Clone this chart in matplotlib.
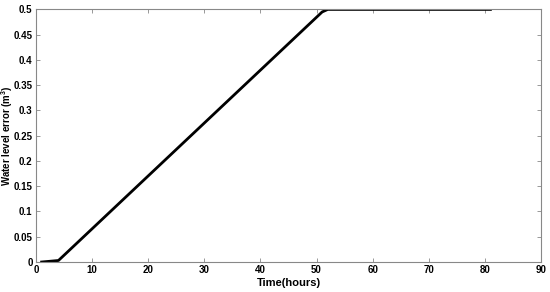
import matplotlib
matplotlib.use('Agg')
import matplotlib.pyplot as plt

# Readings from the reference curve
time_h = [1, 4, 51, 52, 81]
error_m3 = [0.0, 0.003, 0.495, 0.5, 0.5]

xticks = [0, 10, 20, 30, 40, 50, 60, 70, 80, 90]
yticks = [0, 0.05, 0.1, 0.15, 0.2, 0.25, 0.3, 0.35, 0.4, 0.45, 0.5]
ytick_labels = ['0', '0.05', '0.1', '0.15', '0.2', '0.25', '0.3', '0.35', '0.4', '0.45', '0.5']

plt.rcParams['font.family'] = ['Liberation Sans', 'DejaVu Sans']
plt.rcParams['font.weight'] = 'bold'
plt.rcParams['mathtext.fontset'] = 'custom'
plt.rcParams['mathtext.bf'] = 'Liberation Sans:bold'

fig = plt.figure(figsize=(5.5, 2.92), dpi=100)
ax = fig.add_axes([0.0655, 0.1027, 0.918, 0.865])

ax.plot(time_h, error_m3, color='black', linewidth=2, solid_joinstyle='round')

ax.set_xlim(0, 90)
ax.set_ylim(0, 0.5)
ax.set_xticks(xticks)
ax.set_yticks(yticks)
ax.set_yticklabels(ytick_labels)

ax.tick_params(direction='in', length=3, width=0.6, color='#888888',
               labelsize=7, top=True, right=True, pad=2.5)
for s in ax.spines.values():
    s.set_color('#888888')
    s.set_linewidth(0.8)

ax.set_xlabel('Time(hours)', fontsize=8, fontweight='bold', labelpad=2)
ax.set_ylabel('Water level error (m$^\\mathbf{3}$)', fontsize=7, fontweight='bold')
ax.yaxis.set_label_coords(-0.041, 0.5)

fig.savefig('out.png', dpi=100)
